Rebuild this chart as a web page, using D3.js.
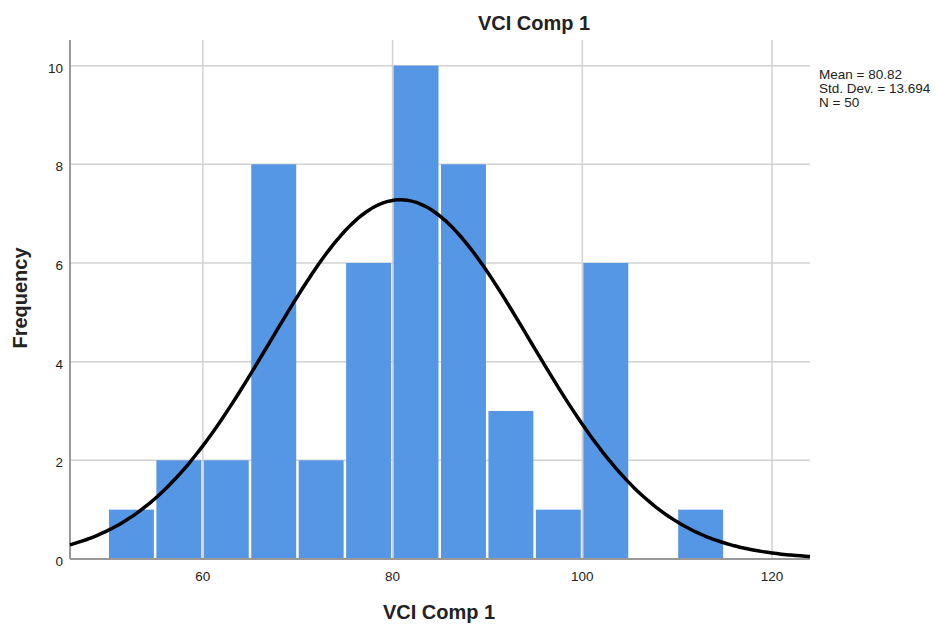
<!DOCTYPE html>
<html lang="en">
    <head>
        <meta charset="utf-8">
        <title>VCI Comp 1</title>
        <script src="https://d3js.org/d3.v7.min.js"></script>
        <style>
            body { margin: 0; background: #fff; }
            text { font-family: "Liberation Sans", Arial, sans-serif; fill: #222; }
        </style>
    </head>
    <body>
        <script>
            // histogram bins (lower edge, width 5) and counts
            const binStarts = [50, 55, 60, 65, 70, 75, 80, 85, 90, 95, 100, 105, 110];
            const counts = [1, 2, 2, 8, 2, 6, 10, 8, 3, 1, 6, 0, 1];
            const binWidth = 5;
            const xTicks = [60, 80, 100, 120];
            const yTicks = [0, 2, 4, 6, 8, 10];
            const mean = 80.82;
            const sd = 13.694;
            const n = 50;
            const statLines = ['Mean = 80.82', 'Std. Dev. = 13.694', 'N = 50'];

            const w = 937;
            const h = 627;
            const plotLeft = 70, plotRight = 810, plotTop = 40, plotBottom = 559;

            const svg = d3.select('body')
                          .append('svg')
                          .attr('width', w)
                          .attr('height', h)

            const x = d3.scaleLinear()
                        .domain([46, 124])
                        .range([plotLeft, plotRight])
            const y = d3.scaleLinear()
                        .domain([0, 10.52])
                        .range([plotBottom, plotTop])

            // grid
            svg.append('g')
               .selectAll('line')
               .data(yTicks.filter(d => d > 0))
               .enter()
               .append('line')
               .attr('x1', plotLeft)
               .attr('x2', plotRight)
               .attr('y1', d => y(d))
               .attr('y2', d => y(d))
               .attr('stroke', '#d2d2d2')
               .attr('stroke-width', 1.5)
            svg.append('g')
               .selectAll('line')
               .data(xTicks)
               .enter()
               .append('line')
               .attr('x1', d => x(d))
               .attr('x2', d => x(d))
               .attr('y1', plotTop)
               .attr('y2', plotBottom)
               .attr('stroke', '#d2d2d2')
               .attr('stroke-width', 1.5)

            // bars
            svg.append('g')
               .selectAll('rect')
               .data(binStarts.map((b, i) => ({ x0: b, x1: b + binWidth, c: counts[i] })).filter(d => d.c > 0))
               .enter()
               .append('rect')
               .attr('x', d => x(d.x0) + 1)
               .attr('width', d => x(d.x1) - x(d.x0) - 2.5)
               .attr('y', d => y(d.c))
               .attr('height', d => y(0) - y(d.c))
               .attr('fill', '#5596e5')

            // axis lines
            svg.append('line')
               .attr('x1', plotLeft).attr('x2', plotLeft)
               .attr('y1', plotTop).attr('y2', plotBottom)
               .attr('stroke', '#999').attr('stroke-width', 2)
            svg.append('line')
               .attr('x1', plotLeft).attr('x2', plotRight)
               .attr('y1', plotBottom).attr('y2', plotBottom)
               .attr('stroke', '#999').attr('stroke-width', 2)

            // tick labels
            svg.append('g')
               .selectAll('text')
               .data(yTicks)
               .enter()
               .append('text')
               .text(d => d)
               .attr('x', plotLeft - 7)
               .attr('y', d => y(d) + 7)
               .attr('text-anchor', 'end')
               .attr('font-size', 13.5)
            svg.append('g')
               .selectAll('text')
               .data(xTicks)
               .enter()
               .append('text')
               .text(d => d)
               .attr('x', d => x(d))
               .attr('y', 581)
               .attr('text-anchor', 'middle')
               .attr('font-size', 13.5)

            // normal curve
            const curve = d3.range(46, 124.01, 0.5).map(v => ({
                v: v,
                f: n * binWidth / (sd * Math.sqrt(2 * Math.PI)) * Math.exp(-0.5 * Math.pow((v - mean) / sd, 2))
            }));
            svg.append('path')
               .datum(curve)
               .attr('d', d3.line().x(d => x(d.v)).y(d => y(d.f)).curve(d3.curveBasis))
               .attr('fill', 'none')
               .attr('stroke', '#000')
               .attr('stroke-width', 3.5)

            // titles
            svg.append('text')
               .text('VCI Comp 1')
               .attr('x', 534)
               .attr('y', 30)
               .attr('text-anchor', 'middle')
               .attr('font-size', 20)
               .attr('font-weight', 'bold')
            svg.append('text')
               .text('VCI Comp 1')
               .attr('x', 439)
               .attr('y', 619)
               .attr('text-anchor', 'middle')
               .attr('font-size', 20)
               .attr('font-weight', 'bold')
            svg.append('text')
               .text('Frequency')
               .attr('transform', 'translate(27, 298) rotate(-90)')
               .attr('text-anchor', 'middle')
               .attr('font-size', 20)
               .attr('font-weight', 'bold')

            // stats
            svg.append('g')
               .selectAll('text')
               .data(statLines)
               .enter()
               .append('text')
               .text(d => d)
               .attr('x', 819)
               .attr('y', (d, i) => 79 + i * 14)
               .attr('font-size', 13.5)
        </script>
    </body>
</html>
